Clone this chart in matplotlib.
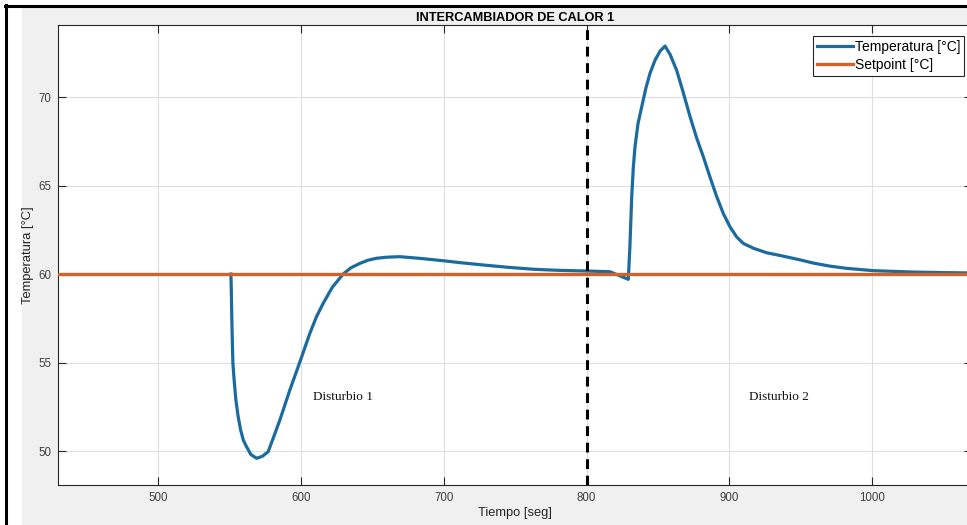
import matplotlib.pyplot as plt
from matplotlib.patches import Rectangle
from matplotlib.lines import Line2D

# data (time in s, temperature in °C)
tiempo = [551.0, 551.2, 551.8, 552.4, 553.3, 554.5, 556.0, 557.8, 559.8,
          562.0, 565.0, 569.0, 573.0, 577.1, 581.0, 585.3, 592.3, 599.3, 606.3,
          611.0, 615.6, 622.0, 629.6, 635.0, 641.3, 647.0, 652.9, 660.0, 669.2,
          684.0, 699.7, 713.0, 727.7, 745.0, 762.7, 780.0, 800.1, 816.4, 829.2,
          830.3, 831.6, 832.7, 833.9, 836.0, 838.6, 841.5, 844.4, 848.0, 851.5,
          854.9, 858.5, 863.1, 867.5, 872.4, 877.0, 881.7, 886.5, 891.1, 895.8,
          900.4, 905.0, 909.7, 917.0, 926.1, 935.4, 949.4, 958.7, 970.0, 982.1,
          1000.7, 1028.7, 1050.0, 1070.0]
temperatura = [60.0, 59.5, 57.0, 55.0, 54.0, 52.9, 52.0, 51.2, 50.6,
               50.24, 49.8, 49.59, 49.7, 49.96, 50.8, 51.75, 53.45, 55.03, 56.65,
               57.6, 58.34, 59.25, 60.0, 60.35, 60.6, 60.78, 60.89, 60.95, 60.98,
               60.88, 60.75, 60.63, 60.51, 60.38, 60.27, 60.21, 60.17, 60.13, 59.70,
               61.5, 64.37, 66.0, 67.2, 68.5, 69.45, 70.5, 71.34, 72.1, 72.6,
               72.88, 72.4, 71.5, 70.3, 68.9, 67.7, 66.63, 65.45, 64.37, 63.4,
               62.67, 62.1, 61.73, 61.45, 61.2, 61.05, 60.8, 60.62, 60.45, 60.32,
               60.19, 60.11, 60.08, 60.06]
setpoint_t = [430, 1070]
setpoint = [60, 60]
t_disturbio = 800
etiquetas = [("Disturbio 1", 629.6, 53.05), ("Disturbio 2", 934.7, 53.05)]

W, H = 967, 525
fig = plt.figure(figsize=(W / 100, H / 100), dpi=100, facecolor='white')

# gray MATLAB-like panel and the black frame of the screenshot
fig.patches.append(Rectangle((22 / W, 0), 1, (H - 7) / H, transform=fig.transFigure,
                             facecolor='#f0f0f0', edgecolor='none', zorder=-10))
fig.lines.append(Line2D([6 / W, 6 / W], [0, (H - 5) / H], transform=fig.transFigure,
                        color='black', lw=2.2, zorder=10))
fig.lines.append(Line2D([5 / W, 1], [(H - 6) / H, (H - 6) / H], transform=fig.transFigure,
                        color='black', lw=2.2, zorder=10))

ax = fig.add_axes([58 / W, 40 / H, 914.3 / W, 460 / H])
ax.set_facecolor('white')

azul = '#1b6b9e'
naranja = '#d4602a'
ax.plot(tiempo, temperatura, color=azul, lw=2.3, label='Temperatura [°C]', zorder=3)
ax.plot(setpoint_t, setpoint, color=naranja, lw=2.4, label='Setpoint [°C]', zorder=4)
ax.axvline(t_disturbio, color='black', lw=2.2, ls=(0, (3.2, 2.2)), zorder=5)

for txt, x, y in etiquetas:
    ax.text(x, y, txt, family='Liberation Serif', fontsize=9.5, ha='center', va='center',
            color='#111111')

ax.set_xlim(430, 1070)
ax.set_ylim(48.08, 74.07)
ax.set_xticks(range(500, 1001, 100))
ax.set_yticks(range(50, 71, 5))
ax.grid(True, color='#dedede', lw=0.8)
ax.set_axisbelow(True)
ax.tick_params(direction='in', length=6, width=0.8, colors='#262626', labelcolor='#404040',
               labelsize=8.3, top=True, right=True, pad=5)
for s in ax.spines.values():
    s.set_color('#262626')
    s.set_linewidth(0.8)

ax.set_title('INTERCAMBIADOR DE CALOR 1', fontsize=9.2, fontweight='bold',
             family='Liberation Sans', pad=3)
ax.set_xlabel('Tiempo [seg]', fontsize=9.3, color='#262626', labelpad=2)
ax.set_ylabel('Temperatura [°C]', fontsize=9.3, color='#262626', labelpad=3)
for lbl in ax.get_xticklabels() + ax.get_yticklabels():
    lbl.set_family('Liberation Sans')
ax.xaxis.label.set_family('Liberation Sans')
ax.yaxis.label.set_family('Liberation Sans')

leg = ax.legend(loc='upper right', bbox_to_anchor=(964.3 / W, 1 - 35.7 / H),
                bbox_transform=fig.transFigure, borderaxespad=0, fancybox=False,
                framealpha=1, edgecolor='#262626', borderpad=0.3, handlelength=2.6,
                handletextpad=0.1, labelspacing=0.3,
                prop={'family': 'Liberation Sans', 'size': 10})
leg.get_frame().set_linewidth(0.8)

fig.savefig('out.png', dpi=100, facecolor=fig.get_facecolor())
